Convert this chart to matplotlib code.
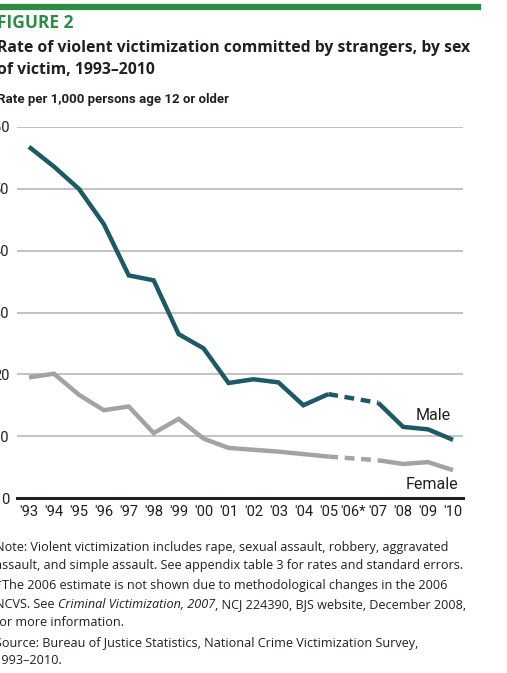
import matplotlib
matplotlib.use("Agg")
import matplotlib.pyplot as plt

# values (rate per 1,000 persons age 12 or older)
years = [1993, 1994, 1995, 1996, 1997, 1998, 1999, 2000, 2001, 2002,
         2003, 2004, 2005, 2007, 2008, 2009, 2010]
male = [56.8, 53.6, 50.0, 44.3, 36.0, 35.2, 26.5, 24.2, 18.6, 19.2,
        18.7, 15.0, 16.8, 15.4, 11.5, 11.1, 9.4]
female = [19.5, 20.1, 16.7, 14.2, 14.8, 10.5, 12.8, 9.6, 8.1, 7.8,
          7.5, 7.1, 6.7, 6.1, 5.5, 5.8, 4.5]
tick_years = list(range(1993, 2011))
tick_labels = ["'93", "'94", "'95", "'96", "'97", "'98", "'99", "'00", "'01",
               "'02", "'03", "'04", "'05", "'06*", "'07", "'08", "'09", "'10"]
y_ticks = [0, 10, 20, 30, 40, 50, 60]

GREEN = "#2b8c45"
MALE_C = "#1b5a66"
FEMALE_C = "#a3a3a3"
TXT = "#231f20"

plt.rcParams['font.family'] = ['Open Sans', 'DejaVu Sans']
narrow = ['Liberation Sans Narrow', 'Roboto', 'DejaVu Sans']

W, H = 507, 673
fig = plt.figure(figsize=(W / 100, H / 100), dpi=100)


def fx(px):
    return px / W


def fy(py):
    return 1 - py / H


# green rule at top
fig.add_artist(plt.Line2D([0, fx(478)], [fy(7), fy(7)], color=GREEN, lw=4.5))

fig.text(fx(-3), fy(23), "FIGURE 2", color=GREEN, fontsize=12.5,
         fontweight='bold', va='center', ha='left')
fig.text(fx(-3), fy(48), "Rate of violent victimization committed by strangers, by sex",
         color=TXT, fontsize=11.3, fontweight='bold', va='center', ha='left')
fig.text(fx(-3), fy(70), "of victim, 1993\u20132010",
         color=TXT, fontsize=11.3, fontweight='bold', va='center', ha='left')
fig.text(fx(-3), fy(100), "Rate per 1,000 persons age 12 or older",
         color=TXT, fontsize=9.5, family=narrow, fontweight='bold',
         va='center', ha='left')

ax = fig.add_axes([fx(17), fy(498), fx(463) - fx(17), fy(127) - fy(498)])

# solid segments, skipping 2006, with dashed bridge
i05 = years.index(2005)
for vals, col in [(male, MALE_C), (female, FEMALE_C)]:
    ax.plot(years[:i05 + 1], vals[:i05 + 1], color=col, lw=3.2,
            solid_capstyle='butt', solid_joinstyle='miter', zorder=3)
    ax.plot(years[i05 + 1:], vals[i05 + 1:], color=col, lw=3.2,
            solid_capstyle='butt', solid_joinstyle='miter', zorder=3)
    ax.plot(years[i05:i05 + 2], vals[i05:i05 + 2], color=col, lw=3.2,
            ls=(0, (2.2, 1.5)), zorder=3)

ax.set_xlim(1992.52, 2010.4)
ax.set_ylim(0, 60)
ax.set_yticks(y_ticks)
ax.set_yticklabels([str(v) for v in y_ticks], family=narrow, fontsize=10.5, color=TXT)
ax.set_xticks(tick_years)
ax.set_xticklabels(tick_labels, family=narrow, fontsize=10.5, color=TXT)
ax.tick_params(length=0)
ax.tick_params(axis='y', pad=5.5)
ax.tick_params(axis='x', pad=5)
ax.grid(axis='y', color='#b3b3b3', lw=1.1)
ax.set_axisbelow(True)
for s in ['top', 'right', 'left']:
    ax.spines[s].set_visible(False)
ax.spines['bottom'].set_linewidth(2.2)
ax.spines['bottom'].set_color(TXT)
ax.spines['bottom'].set_zorder(4)

ax.text(2009.9, 13.3, "Male", family=narrow, fontsize=11.5, color=TXT,
        ha='right', va='center')
ax.text(2010.2, 2.2, "Female", family=narrow, fontsize=11.5, color=TXT,
        ha='right', va='center')

NFS = 9.1
notes = [
    (548, "Note: Violent victimization includes rape, sexual assault, robbery, aggravated"),
    (565, "assault, and simple assault. See appendix table 3 for rates and standard errors."),
    (585, "*The 2006 estimate is not shown due to methodological changes in the 2006"),
    (622, "for more information."),
    (643, "Source: Bureau of Justice Statistics, National Crime Victimization Survey,"),
    (661, "1993\u20132010."),
]
for py, t in notes:
    fig.text(fx(-5), fy(py), t, color=TXT, fontsize=NFS, va='center', ha='left')

# line with italic title, built from pieces
p1 = fig.text(fx(-5), fy(604), "NCVS. See ", color=TXT, fontsize=NFS,
              va='baseline', ha='left')
p2 = fig.text(0, 0, "Criminal Victimization, 2007", color=TXT, fontsize=NFS,
              style='italic', va='baseline', ha='left')
p3 = fig.text(0, 0, ", NCJ 224390, BJS website, December 2008,", color=TXT,
              fontsize=NFS, va='baseline', ha='left')
fig.canvas.draw()
r = fig.canvas.get_renderer()
b1 = p1.get_window_extent(r)
p2.set_position((b1.x1 / W, fy(604)))
b2 = p2.get_window_extent(r)
p3.set_position((b2.x1 / W, fy(604)))
for p in (p1, p2, p3):
    p.set_y(fy(608))

fig.savefig("out.png", dpi=100, facecolor='white')
